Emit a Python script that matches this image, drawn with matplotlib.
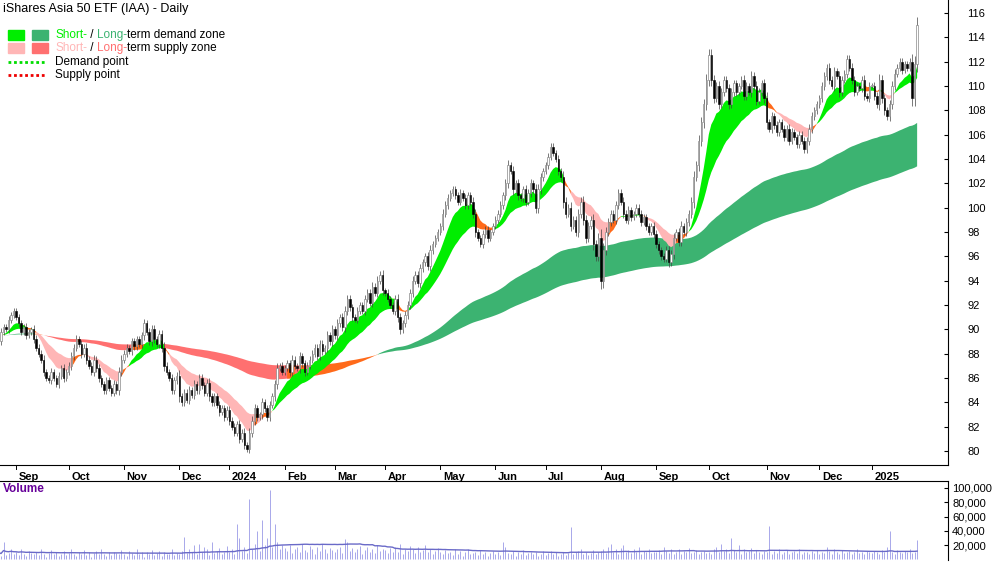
import numpy as np
import pandas as pd
import matplotlib
matplotlib.use("Agg")
import matplotlib.pyplot as plt
from matplotlib.patches import Rectangle

plt.rcParams['font.family'] = ['Liberation Sans', 'DejaVu Sans']

# ---- daily closes ----
month_labels = ['', 'Sep', 'Oct', 'Nov', 'Dec', '2024', 'Feb', 'Mar', 'Apr', 'May', 'Jun', 'Jul',
                'Aug', 'Sep', 'Oct', 'Nov', 'Dec', '2025']
closes_by_month = [
    [89.5, 89.0, 89.8, 90.2, 90.0, 90.8, 91.2, 91.5],
    [91.0, 90.5, 89.8, 90.2, 89.5, 89.8, 90.0, 89.2, 88.5, 88.0, 87.5, 86.5, 86.0, 85.8, 86.5, 86.0, 85.5, 86.2, 86.8, 86.0, 86.5],
    [87.0, 87.8, 88.5, 89.2, 88.8, 88.0, 88.5, 87.5, 87.0, 86.5, 87.5, 86.8, 86.0, 85.5, 85.0, 85.8, 85.2, 84.8, 85.5, 85.0, 86.5, 87.5],
    [88.0, 88.5, 88.2, 89.0, 88.6, 89.2, 88.8, 89.5, 90.5, 89.8, 89.0, 90.0, 89.2, 88.8, 89.6, 88.5, 87.0, 86.5, 86.0, 85.0, 85.8, 86.2],
    [84.5, 84.0, 84.8, 84.2, 85.0, 84.6, 85.5, 85.0, 86.0, 85.4, 84.8, 85.6, 84.5, 84.0, 84.5, 83.8, 83.2, 83.5, 82.8, 83.4],
    [82.5, 82.0, 81.5, 82.2, 81.0, 81.5, 80.5, 80.2, 81.5, 82.5, 83.5, 82.8, 83.0, 84.0, 83.5, 82.8, 83.8, 84.5, 85.5, 86.8, 87.0, 86.5],
    [86.8, 87.2, 86.5, 87.5, 87.0, 86.8, 87.8, 87.2, 86.5, 87.0, 87.5, 88.0, 88.5, 87.8, 88.8, 88.2, 88.5, 89.5, 89.0, 90.0],
    [89.5, 90.5, 91.0, 90.2, 91.5, 92.5, 91.8, 91.0, 90.8, 91.5, 92.0, 91.5, 92.5, 93.0, 92.2, 93.5, 93.0, 94.0, 94.5, 93.2],
    [93.0, 92.5, 92.0, 91.5, 92.5, 91.0, 90.0, 90.5, 91.2, 92.0, 93.0, 94.0, 94.5, 93.8, 95.0, 95.5, 96.0, 95.2, 96.5, 97.0, 97.5, 98.0],
    [98.5, 99.5, 100.2, 100.8, 101.2, 101.5, 101.0, 100.5, 101.2, 100.8, 100.2, 101.0, 100.5, 99.5, 98.0, 97.5, 97.0, 97.8, 98.2, 97.5, 98.0, 98.5],
    [99.0, 99.5, 100.2, 101.0, 102.0, 103.5, 103.0, 101.5, 102.0, 101.0, 100.8, 101.5, 100.5, 101.2, 102.0, 101.5, 100.0, 101.5, 102.5, 103.0],
    [103.5, 104.2, 105.0, 104.5, 104.0, 103.0, 102.5, 100.5, 99.5, 100.0, 98.5, 99.0, 98.0, 99.5, 100.5, 99.0, 97.5, 98.5, 99.0, 97.0, 96.0, 97.5],
    [94.0, 96.5, 98.0, 98.8, 99.5, 99.0, 100.2, 101.2, 100.5, 99.5, 99.0, 99.8, 99.2, 99.5, 100.0, 99.5, 98.8, 99.2, 98.5, 98.0, 98.5, 97.8],
    [97.0, 96.5, 96.0, 95.8, 96.5, 95.5, 96.2, 97.5, 98.0, 97.2, 98.5, 98.0, 98.8, 99.5, 100.5, 102.5, 103.5, 105.5, 107.0, 108.5, 110.5],
    [112.5, 110.5, 109.0, 110.0, 108.5, 109.5, 110.5, 109.8, 108.5, 109.5, 110.2, 109.5, 110.0, 110.5, 109.2, 110.0, 109.5, 110.8, 110.0, 108.8, 109.5, 110.2, 109.0],
    [107.0, 106.5, 107.5, 106.8, 106.2, 107.0, 106.5, 105.8, 106.5, 105.5, 106.2, 105.8, 105.2, 106.0, 105.5, 104.8, 105.5, 106.5, 107.5, 108.0, 108.5],
    [109.0, 110.0, 110.8, 111.5, 110.5, 110.0, 111.2, 110.8, 109.5, 110.5, 111.0, 112.2, 111.5, 110.5, 109.5, 110.0, 109.8, 110.5, 109.2, 109.0, 110.0],
    [110.0, 109.2, 108.5, 110.5, 109.0, 108.0, 107.5, 108.5, 110.0, 111.0, 111.5, 112.0, 111.3, 111.8, 111.5, 112.0, 109.0, 111.8, 115.0],
]

# ---- daily volume, thousands ----
volume_by_month = [
    [8, 12, 5, 25, 6, 9, 15, 7],
    [10, 6, 14, 8, 5, 12, 9, 7, 11, 6, 15, 8, 4, 9, 13, 7, 10, 5, 8, 12, 6],
    [9, 14, 7, 5, 11, 8, 13, 6, 10, 4, 9, 12, 7, 15, 8, 5, 10, 6, 11, 9, 7, 13],
    [8, 5, 12, 9, 6, 14, 7, 10, 4, 11, 8, 13, 6, 9, 12, 5, 10, 7, 8, 15, 6, 9],
    [7, 12, 32, 9, 15, 11, 20, 8, 22, 10, 18, 14, 6, 25, 9, 12, 16, 8, 11, 19],
    [10, 14, 8, 50, 30, 12, 18, 9, 85, 15, 22, 40, 12, 55, 20, 30, 97, 18, 50, 25, 14, 20],
    [16, 12, 20, 9, 14, 18, 11, 22, 13, 10, 19, 15, 8, 17, 12, 21, 14, 9, 16, 13],
    [11, 15, 18, 9, 28, 25, 12, 16, 10, 14, 19, 8, 13, 17, 11, 15, 9, 20, 12, 14],
    [13, 9, 16, 11, 18, 10, 22, 8, 15, 12, 19, 14, 9, 17, 11, 13, 20, 10, 15, 8, 12, 16],
    [10, 7, 13, 9, 11, 6, 15, 8, 12, 5, 10, 14, 7, 9, 11, 6, 13, 8, 10, 5, 9, 12],
    [8, 11, 6, 25, 18, 9, 7, 12, 5, 10, 8, 13, 6, 9, 11, 7, 10, 5, 8, 12],
    [6, 9, 12, 7, 10, 5, 8, 11, 6, 9, 45, 7, 10, 12, 15, 8, 11, 6, 9, 13, 7, 10],
    [12, 15, 9, 18, 22, 11, 14, 8, 16, 20, 10, 13, 9, 15, 11, 17, 8, 12, 10, 14, 9, 11],
    [10, 13, 8, 18, 12, 9, 15, 7, 11, 14, 8, 12, 10, 16, 9, 11, 13, 8, 10, 12, 9],
    [11, 8, 14, 18, 10, 22, 12, 15, 9, 30, 13, 11, 20, 8, 14, 10, 12, 16, 9, 13, 11, 8, 12],
    [10, 47, 8, 12, 9, 14, 7, 11, 13, 8, 10, 12, 9, 15, 8, 11, 10, 7, 12, 9, 13],
    [8, 11, 9, 18, 12, 7, 14, 10, 8, 13, 9, 11, 12, 8, 10, 15, 9, 11, 7, 12, 10],
    [9, 12, 10, 8, 13, 11, 18, 40, 10, 8, 13, 11, 9, 12, 10, 14, 9, 11, 27],
]

closes = sum(closes_by_month, [])
volume_k = sum(volume_by_month, [])
n = min(len(closes), len(volume_k))
close = pd.Series(closes[:n], dtype=float)
vol = np.array(volume_k[:n], dtype=float) * 1000
x = np.arange(n)
month_starts = np.cumsum([0] + [len(m) for m in closes_by_month[:-1]])

opn = close.shift(1).fillna(close.iloc[0]).values
c = close.values
body = np.abs(c - opn)
high = np.maximum(c, opn) + 0.15 * body + 0.2
low = np.minimum(c, opn) - 0.15 * body - 0.2

# zones from exponential averages
s_fast = close.ewm(span=10, adjust=False).mean().values
s_slow = close.ewm(span=25, adjust=False).mean().values
l_fast = close.ewm(span=115, adjust=False).mean().values
l_slow = close.ewm(span=210, adjust=False).mean().values

GREEN = '#00ee00'
SEAGREEN = '#3cb371'
PINK = '#ffb6b6'
RED = '#ff7070'
ORANGE = '#ff6a1a'


def zone_colours(fast, slow, up_col, down_col):
    top = np.maximum(fast, slow)
    bot = np.minimum(fast, slow)
    cols = []
    for i in range(n):
        if fast[i] >= slow[i]:
            cols.append(ORANGE if c[i] < bot[i] else up_col)
        else:
            cols.append(ORANGE if c[i] > top[i] else down_col)
    return top, bot, np.array(cols)


XL = (1.6, 379.3)

fig = plt.figure(figsize=(10, 5.62), dpi=100)
ax = fig.add_axes([0, 1 - 465 / 562, 0.948, 465 / 562])
axv = fig.add_axes([0, 2 / 562, 0.948, 79 / 562])

for fast, slow, up_col, down_col in [(l_fast, l_slow, SEAGREEN, RED), (s_fast, s_slow, GREEN, PINK)]:
    top, bot, cols = zone_colours(fast, slow, up_col, down_col)
    for col in set(cols):
        m = cols == col
        mm = m | (np.roll(m, 1) & (np.arange(n) > 0))
        ax.fill_between(x, bot, top, where=mm, color=col, lw=0, interpolate=False)

# candles
up = c >= opn
ax.vlines(x, low, high, color='#444444', lw=0.5, zorder=3)
for i in range(n):
    b0 = min(c[i], opn[i])
    h = max(body[i], 0.05)
    if up[i]:
        ax.add_patch(Rectangle((i - 0.28, b0), 0.56, h, facecolor='white', edgecolor='#888888', lw=0.5, zorder=4))
    else:
        ax.add_patch(Rectangle((i - 0.28, b0), 0.56, h, facecolor='black', edgecolor='black', lw=0.4, zorder=4))

ax.set_xlim(*XL)
ax.set_ylim(78.85, 117.06)
ax.yaxis.tick_right()
ax.set_yticks(np.arange(80, 117, 2))
ax.tick_params(axis='y', direction='in', length=3, labelsize=8, pad=14)
for t in ax.get_yticklabels():
    t.set_fontweight('bold')
ax.set_xticks([])
for s in ['top', 'left']:
    ax.spines[s].set_visible(False)
ax.spines['right'].set_position(('data', XL[1]))

# month labels
for i, lab in zip(month_starts[1:], month_labels[1:]):
    ax.plot([i, i], [78.85, 78.85 - 0.35], color='black', lw=0.7, clip_on=False)
    ax.text(i + 1, 78.85 - 0.6, lab, fontsize=8, fontweight='bold', va='top', ha='left')

# volume
axv.vlines(x, 0, vol, color='#9a9ae6', lw=0.6)
vma = pd.Series(vol).rolling(50, min_periods=1).mean().values
axv.plot(x, vma, color='#6a6ac8', lw=1.0)
axv.set_xlim(*XL)
axv.set_ylim(-700, 109600)
axv.yaxis.tick_right()
axv.set_yticks([20000, 40000, 60000, 80000, 100000])
axv.set_yticklabels(['20,000', '40,000', '60,000', '80,000', '100,000'])
axv.tick_params(axis='y', direction='in', length=3, labelsize=8, pad=3)
for t in axv.get_yticklabels():
    t.set_fontweight('bold')
axv.set_xticks([])
for s in ['bottom', 'left']:
    axv.spines[s].set_visible(False)
axv.spines['right'].set_position(('data', XL[1]))
axv.text(0.003, 0.97, 'Volume', transform=axv.transAxes, fontsize=8.5, fontweight='bold',
         color='#660099', va='top')

# title and legend
fig.text(0.003, 0.995, 'iShares Asia 50 ETF (IAA) - Daily', fontsize=9, va='top')
fig.patches.append(Rectangle((8, 562 - 40), 16, 10, transform=None, color=GREEN))
fig.patches.append(Rectangle((32, 562 - 40), 16, 10, transform=None, color=SEAGREEN))
fig.patches.append(Rectangle((8, 562 - 53), 16, 10, transform=None, color=PINK))
fig.patches.append(Rectangle((32, 562 - 53), 16, 10, transform=None, color=RED))
fig.lines.append(plt.Line2D([8 / 1000, 46 / 1000], [1 - 62 / 562] * 2, transform=fig.transFigure,
                            color='#00dd00', lw=2, ls=(0, (1, 1))))
fig.lines.append(plt.Line2D([8 / 1000, 46 / 1000], [1 - 75 / 562] * 2, transform=fig.transFigure,
                            color='#ee0000', lw=2, ls=(0, (1, 1))))

renderer = fig.canvas.get_renderer()


def chain(y, parts):
    xpos = 55
    for txt, col in parts:
        t = fig.text(xpos / 1000, 1 - y / 562, txt, fontsize=8.5, color=col, va='center')
        bb = t.get_window_extent(renderer)
        xpos += bb.width


chain(35, [('Short-', GREEN), (' / ', 'black'), ('Long-', SEAGREEN), ('term demand zone', 'black')])
chain(48, [('Short-', PINK), (' / ', 'black'), ('Long-', RED), ('term supply zone', 'black')])
chain(62, [('Demand point', 'black')])
chain(75, [('Supply point', 'black')])

fig.savefig('out.png', dpi=100)
